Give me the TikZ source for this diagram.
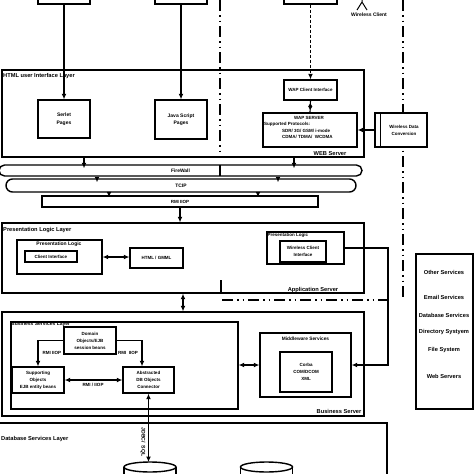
\documentclass[tikz,border=0pt]{standalone}
\usepackage{fontspec}
\setmainfont{Liberation Sans}
\usetikzlibrary{arrows.meta,shapes.geometric,calc}
\begin{document}
\begin{tikzpicture}[x=1pt,y=-1pt,
  box/.style={draw,line width=1.4pt,inner sep=0pt,align=center,font=\bfseries\fontsize{4.5}{7}\selectfont},
  pipe/.style={draw,line width=1.4pt,inner sep=0pt,font=\bfseries\fontsize{4.9}{5}\selectfont},
  arr/.style={line width=1.2pt,-{Latex[length=5.5pt,width=5pt]}},
  darr/.style={line width=1.2pt,{Latex[length=5.5pt,width=5pt]}-{Latex[length=5.5pt,width=5pt]}},
  ddot/.style={line width=1.4pt,dash pattern=on 11pt off 4pt on 1.5pt off 4pt on 1.5pt off 4pt},
  lbl/.style={inner sep=0pt,font=\bfseries\fontsize{5.7}{6}\selectfont},
  sm/.style={inner sep=0pt,align=center,font=\bfseries\fontsize{4.5}{7}\selectfont}]
\useasboundingbox (0,0) rectangle (474,474);

% dash-dot boundary lines
\draw[ddot] (220,0) -- (220,157);
\draw[line width=1.2pt] (220,165) -- (220,176);
\draw[line width=1.2pt] (221,280) -- (221,293);
\draw[ddot] (222,300) -- (388,300);
\draw[ddot] (403,0) -- (403,298);

% top clients
\node[box,minimum width=52pt,minimum height=24pt] (t1) at (64,-8) {};
\node[box,minimum width=52pt,minimum height=24pt] (t2) at (181,-8) {};
\node[box,minimum width=53pt,minimum height=24pt] (t3) at (310.5,-8) {};
\draw[line width=1pt] (362,-6) -- (362,2) -- (357,10) (362,2) -- (367,10);
\node[sm,font=\bfseries\fontsize{5}{6}\selectfont] (wcl) at (369,15) {Wireless Client};

% HTML user interface layer / web server
\node[box,minimum width=362pt,minimum height=87pt] (html) at (183,113.5) {};
\node[lbl,anchor=west] (htmll) at (3,76) {HTML user Interface Layer};
\node[lbl] (webs) at (330,153.5) {WEB Server};
\node[box,minimum width=52pt,minimum height=38pt,font=\bfseries\fontsize{5}{7.5}\selectfont] (serlet) at (64,119) {Serlet\\Pages};
\node[box,minimum width=52pt,minimum height=39pt,font=\bfseries\fontsize{5}{7.5}\selectfont] (js) at (181,119.5) {Java Script\\Pages};
\node[box,minimum width=53pt,minimum height=20pt] (wapci) at (310.5,90) {WAP Client Interface};
\node[box,minimum width=94pt,minimum height=34pt] (wap) at (310,130) {};
\node[sm] (w1) at (309,117.5) {WAP SERVER};
\node[sm,anchor=west] (w2) at (264,124) {Supported Protocols:};
\node[sm,anchor=west] (w3) at (282,130.5) {SDR/ 3G/ GSM/ i-mode};
\node[sm,anchor=west] (w4) at (282,137) {CDMA/ TDMA/ \ WCDMA};
\node[box,fill=white,minimum width=52pt,minimum height=34pt] (wdc) at (401,130) {};
\draw[line width=1.2pt] ($(wdc.north west)+(6,0)$) -- ($(wdc.south west)+(6,0)$);
\node[sm] (wdct) at (404,130) {Wireless Data\\Conversion};

\draw[arr] (t1.south) -- (serlet.north);
\draw[arr] (t2.south) -- (js.north);
\draw[arr,dash pattern=on 3pt off 2pt] (t3.south) -- (wapci.north);
\draw[line width=1.1pt] (wapci.south) -- (wap.north)
  node[midway,diamond,fill,inner sep=0pt,minimum width=4.5pt,minimum height=7pt] (dm) {};
\draw[arr] (wdc.west) -- (wap.east);

% network pipes
\node[pipe,rounded corners=5.5pt,minimum width=363pt,minimum height=11pt] (fw) at (180.5,170.5) {FireWall};
\node[pipe,rounded corners=6.5pt,minimum width=350pt,minimum height=13pt] (tcp) at (181,185.5) {TCIP};
\node[pipe,minimum width=276pt,minimum height=11pt,font=\bfseries\fontsize{4.5}{5}\selectfont] (rmi) at (180,201.5) {RMI IIOP};

\coordinate (xa) at (84,0);
\coordinate (xb) at (97,0);
\coordinate (xc) at (109,0);
\coordinate (xd) at (294,0);
\coordinate (xe) at (278,0);
\coordinate (xf) at (258,0);
\draw[arr,shorten >=-4pt] (html.south -| xa) -- (fw.north -| xa);
\draw[arr,shorten >=-4pt] (html.south -| xd) -- (fw.north -| xd);
\draw[arr,shorten >=-4pt] (fw.south -| xb) -- (tcp.north -| xb);
\draw[arr,shorten >=-4pt] (fw.south -| xe) -- (tcp.north -| xe);
\draw[arr,shorten >=-2pt] (tcp.south -| xc) -- (rmi.north -| xc);
\draw[arr,shorten >=-2pt] (tcp.south -| xf) -- (rmi.north -| xf);

% presentation logic layer / application server
\node[box,minimum width=362pt,minimum height=70pt] (pll) at (183,258) {};
\node[lbl,anchor=west] (plll) at (3,230) {Presentation Logic Layer};
\node[lbl] (apps) at (313,290.5) {Application Server};
\node[box,minimum width=85pt,minimum height=34pt] (pl1) at (59.5,257) {};
\node[sm,font=\bfseries\fontsize{5}{6}\selectfont] (pl1t) at (59,244) {Presentation Logic};
\node[box,minimum width=52pt,minimum height=11pt] (ci) at (51,256.5) {Client Interface};
\node[box,minimum width=53pt,minimum height=20pt] (gmml) at (156.5,258) {HTML / GMML};
\node[box,minimum width=77pt,minimum height=32pt] (pl2) at (305.5,248) {};
\node[sm,anchor=west] (pl2t) at (267.5,235.5) {Presentation Logic};
\node[box,minimum width=46pt,minimum height=21pt] (wci) at (303,251.5) {Wireless Client\\Interface};

\draw[arr] (rmi.south) -- (rmi.south |- pll.north);
\draw[darr] (pl1.east) -- (pl1.east -| gmml.west);

% business server
\node[box,minimum width=362pt,minimum height=104pt] (bs) at (183,364) {};
\node[lbl] (bst) at (339,411) {Business Server};
\node[box,minimum width=227pt,minimum height=87pt] (bsl) at (124.5,365.5) {};
\node[sm,anchor=north west,font=\bfseries\fontsize{5}{6}\selectfont] (bslt) at (11,322) {Business Services Layer};
\node[box,minimum width=52pt,minimum height=27pt,fill=white] (dom) at (90,340.5) {Domain\\Objects/EJB\\session beans};
\node[box,minimum width=52pt,minimum height=26pt] (sup) at (38,380) {Supporting\\Objects\\EJB entity beans};
\node[box,minimum width=51pt,minimum height=26pt] (abs) at (148.5,380) {Abstracted\\DB Objects\\Connector};
\node[box,minimum width=91pt,minimum height=64pt] (mw) at (305.5,365) {};
\node[sm,font=\bfseries\fontsize{4.8}{6}\selectfont] (mwt) at (305.5,338.5) {Middleware Services};
\node[box,minimum width=52pt,minimum height=40pt] (corba) at (306,372) {Corba\\COM/DCOM\\XML};

\draw[darr] (pll.south) -- (pll.south |- bs.north);
\draw[arr] (dom.west) -| (sup.north);
\draw[arr] (dom.east) -| ($(abs.north)+(-6.5,0)$);
\node[sm] (r1) at (52,353) {RMI IIOP};
\node[sm] (r2) at (128,353) {RMI \ IIOP};
\draw[darr] (sup.east) -- (abs.west);
\node[sm] (r3) at (93,385) {RMI / IIOP};
\draw[darr] (bsl.east |- mw.west) -- (mw.west);
\coordinate (cx) at (388,0);
\draw[arr] (pl2.east) -- (pl2.east -| cx) |- (mw.east);

% database services layer
\node[box,minimum width=389pt,minimum height=67pt] (dbl) at (192.5,456.5) {};
\node[lbl,anchor=west] (dblt) at (1,439) {Database Services Layer};
\foreach \cx in {150,266.5}{
  \draw[line width=1.4pt,fill=white] (\cx-26,467) -- (\cx-26,495) -- (\cx+26,495) -- (\cx+26,467);
  \draw[line width=1.4pt,fill=white] (\cx,467) ellipse (26pt and 5pt);
}
\coordinate (db1) at (148.5,462);
\draw[darr] (abs.south) -- (abs.south |- db1);
\node[sm,rotate=-90,font=\bfseries\fontsize{5.2}{6}\selectfont] (jd) at (143,442) {JDBC/ \ SQL};

% other services
\node[box,minimum width=57pt,minimum height=155pt] (srv) at (444.5,331.5) {};
\node[lbl] (s1) at (444,272) {Other Services};
\node[lbl] (s2) at (444,297) {Email Services};
\node[lbl] (s3) at (444,315) {Database Services};
\node[lbl] (s4) at (444,332.5) {Directory Systyem};
\node[lbl] (s5) at (444,350) {File System};
\node[lbl] (s6) at (444,376) {Web Servers};
\end{tikzpicture}
\end{document}
